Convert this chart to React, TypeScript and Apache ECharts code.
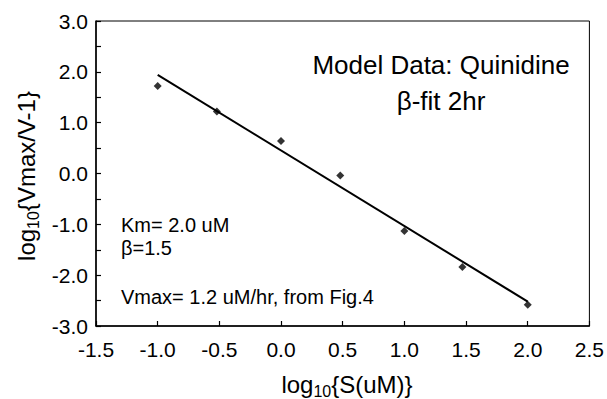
import React, { useEffect, useRef } from "react";
import * as echarts from "echarts";

const logS = [-1.0, -0.52, 0.0, 0.48, 1.0, 1.47, 2.0];
const logV = [1.72, 1.22, 0.64, -0.04, -1.13, -1.84, -2.58];
const fitX = [-1.0, 2.0];
const fitY = [1.94, -2.52];
const titleLines = ["Model Data: Quinidine", "β-fit 2hr"];
const notes = ["Km= 2.0 uM", "β=1.5", "Vmax= 1.2 uM/hr, from Fig.4"];
const xTitle = ["log", "10", "{S(uM)}"];
const yTitle = ["log", "10", "{Vmax/V-1}"];

const FONT = "'Liberation Sans', Arial, Helvetica, sans-serif";

function richTitle(parts: string[]) {
  return {
    text: `{n|${parts[0]}}{s|${parts[1]}}${parts[2]}`,
    fontSize: 24,
    lineHeight: 30,
    fontFamily: FONT,
    fill: "#000",
    rich: {
      n: { fontSize: 24, fontFamily: FONT, fill: "#000", lineHeight: 30, verticalAlign: "middle" },
      s: { fontSize: 16, fontFamily: FONT, fill: "#000", lineHeight: 14, verticalAlign: "bottom" },
    },
    align: "center",
    verticalAlign: "middle",
  };
}

export default function App() {
  const ref = useRef<HTMLDivElement>(null);
  useEffect(() => {
    if (!ref.current) return;
    const chart = echarts.init(ref.current, undefined, { renderer: "svg" });
    const axisCommon = {
      type: "value" as const,
      axisLine: { show: true, onZero: false, lineStyle: { color: "#000", width: 1.5 } },
      axisTick: { show: true, inside: true, length: 5, lineStyle: { color: "#000", width: 1.2 } },
      splitLine: { show: false },
      axisLabel: {
        color: "#000",
        fontSize: 21,
        fontFamily: FONT,
        formatter: (v: number) => v.toFixed(1),
      },
    };
    chart.setOption({
      animation: false,
      backgroundColor: "#fff",
      grid: {
        left: 96,
        right: 15,
        top: 21,
        bottom: 73,
        show: true,
        borderColor: "#000",
        borderWidth: 1,
      },
      xAxis: {
        ...axisCommon,
        min: -1.5,
        max: 2.5,
        interval: 0.5,
        axisLabel: { ...axisCommon.axisLabel, margin: 13 },
      },
      yAxis: {
        ...axisCommon,
        min: -3,
        max: 3,
        interval: 1,
        minorTick: { show: true, splitNumber: 2, length: 5, lineStyle: { color: "#000", width: 1.2 } },
        axisLabel: { ...axisCommon.axisLabel, margin: 8 },
      },
      series: [
        {
          type: "line",
          data: fitX.map((x, i) => [x, fitY[i]]),
          symbol: "none",
          lineStyle: { color: "#000", width: 2 },
        },
        {
          type: "scatter",
          data: logS.map((x, i) => [x, logV[i]]),
          symbol: "diamond",
          symbolSize: 8,
          itemStyle: { color: "#000" },
        },
      ],
      graphic: [
        ...titleLines.map((t, i) => ({
          type: "text",
          x: 441,
          y: [65, 101][i],
          style: {
            text: t,
            fontSize: 26,
            fontFamily: FONT,
            fill: "#000",
            align: "center",
            verticalAlign: "middle",
          },
        })),
        ...notes.map((t, i) => ({
          type: "text",
          x: 121,
          y: [225, 248, 297][i],
          style: {
            text: t,
            fontSize: 20,
            fontFamily: FONT,
            fill: "#000",
            align: "left",
            verticalAlign: "middle",
          },
        })),
        {
          type: "text",
          x: 347,
          y: 384,
          style: richTitle(xTitle),
        },
        {
          type: "text",
          x: 26,
          y: 176,
          rotation: Math.PI / 2,
          style: richTitle(yTitle),
        },
      ],
    });
    return () => chart.dispose();
  }, []);
  return <div ref={ref} style={{ width: 607, height: 399, position: "fixed", left: 0, top: 0 }} />;
}
